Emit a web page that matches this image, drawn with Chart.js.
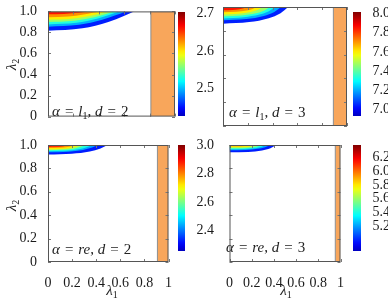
<!DOCTYPE html>
<html>
<head>
<meta charset="utf-8">
<script src="https://cdn.jsdelivr.net/npm/chart.js@4/dist/chart.umd.min.js"></script>
<style>
  body { margin: 0; width: 388px; height: 303px; position: relative; background: #fff; overflow: hidden; }
  canvas { position: absolute; }
  .note, .lab { position: absolute; font-family: 'Liberation Serif', serif; font-size: 15px; color: #222; white-space: nowrap; line-height: 15px; }
  .note sub, .lab sub { font-size: 10px; font-style: normal; vertical-align: -3px; line-height: 0; }
  .note .eq { padding: 0 5px; font-style: normal; }
  .lab { width: 30px; margin-left: -15px; margin-top: -8px; text-align: center; font-style: italic; }
  .rot { transform: rotate(-90deg); }
</style>
</head>
<body>
<canvas id="p1" width="177" height="128" style="left:0;top:0"></canvas>
<canvas id="c1" width="40" height="128" style="left:178px;top:0"></canvas>
<canvas id="p2" width="128" height="128" style="left:221px;top:0"></canvas>
<canvas id="c2" width="35" height="128" style="left:353px;top:0"></canvas>
<canvas id="p3" width="177" height="173" style="left:0;top:130px"></canvas>
<canvas id="c3" width="40" height="133" style="left:178px;top:130px"></canvas>
<canvas id="p4" width="128" height="173" style="left:221px;top:130px"></canvas>
<canvas id="c4" width="35" height="133" style="left:353px;top:130px"></canvas>

<div class="note" style="left:52px;top:104px"><i>α</i><span class="eq">=</span><i>l</i><sub>1</sub>, <i>d</i><span class="eq">=</span>2</div>
<div class="note" style="left:229px;top:105px"><i>α</i><span class="eq">=</span><i>l</i><sub>1</sub>, <i>d</i><span class="eq">=</span>3</div>
<div class="note" style="left:52px;top:242px"><i>α</i><span class="eq">=</span><i>re</i>, <i>d</i><span class="eq">=</span>2</div>
<div class="note" style="left:226px;top:240px"><i>α</i><span class="eq">=</span><i>re</i>, <i>d</i><span class="eq">=</span>3</div>

<div class="lab rot" style="left:11px;top:65px">λ<sub>2</sub></div>
<div class="lab rot" style="left:11px;top:206px">λ<sub>2</sub></div>
<div class="lab" style="left:112px;top:291px">λ<sub>1</sub></div>
<div class="lab" style="left:286px;top:291px">λ<sub>1</sub></div>

<script>
// ticks of the λ1 / λ2 axes
var lambdaTicks = [0, 0.2, 0.4, 0.6, 0.8, 1];

// where the orange strip starts on the λ1 axis (l1 d2, l1 d3, re d2, re d3)
var stripStart = [0.81, 0.89, 0.908, 0.953];

// colour bar ranges and ticks
var cbarMin = [2.427, 6.93, 2.257, 4.837];
var cbarMax = [2.705, 8.018, 3.0, 6.382];
var cbarTicks = [
  [2.5, 2.6, 2.7],
  [7.0, 7.2, 7.4, 7.6, 7.8, 8.0],
  [2.4, 2.6, 2.8, 3.0],
  [5.2, 5.4, 5.6, 5.8, 6.0, 6.2]
];

// contour levels, outermost (blue) first
var levelsL1D2 = [2.455, 2.497, 2.530, 2.566, 2.599, 2.627, 2.663];
var levelsL1D3 = [7.04, 7.20, 7.33, 7.47, 7.60, 7.71, 7.85];
var levelsReD2 = [2.33, 2.44, 2.53, 2.63, 2.72, 2.79, 2.89];
var levelsReD3 = [4.99, 5.22, 5.41, 5.61, 5.80, 5.95, 6.15];

// contour lines [λ1, λ2], same order as the levels
var contoursL1D2 = [
  [[0, .815], [.271, .839], [.475, .900], [.597, .956], [.678, 1]],
  [[0, .854], [.244, .873], [.427, .921], [.537, .965], [.61, 1]],
  [[0, .876], [.224, .892], [.392, .933], [.493, .970], [.56, 1]],
  [[0, .899], [.208, .912], [.364, .945], [.458, .976], [.52, 1]],
  [[0, .921], [.188, .931], [.329, .957], [.414, .981], [.47, 1]],
  [[0, .944], [.16, .951], [.28, .970], [.352, .987], [.40, 1]],
  [[0, .972], [.124, .976], [.217, .985], [.273, .993], [.31, 1]]
];
var contoursL1D3 = [
  [[0, .859], [.211, .873], [.369, .906], [.464, .948], [.527, 1]],
  [[0, .888], [.188, .899], [.329, .925], [.414, .959], [.47, 1]],
  [[0, .904], [.168, .914], [.294, .936], [.370, .964], [.42, 1]],
  [[0, .921], [.152, .929], [.266, .947], [.334, .971], [.38, 1]],
  [[0, .938], [.128, .944], [.224, .958], [.282, .977], [.32, 1]],
  [[0, .955], [.108, .960], [.189, .970], [.238, .983], [.27, 1]],
  [[0, .972], [.076, .975], [.133, .981], [.167, .990], [.19, 1]]
];
var contoursReD2 = [
  [[0, .918], [.198, .925], [.347, .944], [.436, .971], [.495, 1]],
  [[0, .938], [.166, .943], [.291, .958], [.366, .978], [.416, 1]],
  [[0, .946], [.146, .950], [.255, .963], [.320, .981], [.364, 1]],
  [[0, .955], [.124, .959], [.217, .969], [.273, .984], [.31, 1]],
  [[0, .963], [.108, .966], [.189, .975], [.238, .987], [.27, 1]],
  [[0, .975], [.093, .977], [.163, .983], [.205, .991], [.233, 1]],
  [[0, .983], [.067, .984], [.117, .988], [.147, .994], [.167, 1]]
];
var contoursReD3 = [
  [[0, .938], [.168, .941], [.293, .954], [.369, .972], [.419, 1]],
  [[0, .955], [.146, .957], [.256, .967], [.321, .980], [.365, 1]],
  [[0, .963], [.130, .965], [.227, .973], [.285, .983], [.324, 1]],
  [[0, .972], [.114, .973], [.199, .979], [.250, .987], [.284, 1]],
  [[0, .980], [.097, .981], [.170, .985], [.214, .991], [.243, 1]],
  [[0, .989], [.076, .990], [.133, .992], [.167, .995], [.19, 1]],
  [[0, .995], [.054, .995], [.095, .996], [.119, .997], [.135, 1]]
];

var tickFont = { family: 'Liberation Serif', size: 14 };
var textColor = '#1a1a1a';

// jet colormap
function jet(t) {
  t = 0.06 + 0.94 * Math.max(0, Math.min(1, t));
  var c = function (v) { return Math.round(255 * Math.max(0, Math.min(1, v))); };
  return 'rgb(' + c(1.5 - Math.abs(4 * t - 3)) + ',' + c(1.5 - Math.abs(4 * t - 2)) + ',' + c(1.5 - Math.abs(4 * t - 1)) + ')';
}

// frame around the plot with small inward ticks
var boxPlugin = {
  id: 'box',
  afterDatasetsDraw: function (chart) {
    var a = chart.chartArea, ctx = chart.ctx, xs = chart.scales.x, ys = chart.scales.y;
    ctx.save();
    ctx.strokeStyle = '#777';
    ctx.lineWidth = 1;
    ctx.beginPath();
    lambdaTicks.forEach(function (v) {
      var px = Math.round(xs.getPixelForValue(v)) + 0.5;
      var py = Math.round(ys.getPixelForValue(v)) + 0.5;
      ctx.moveTo(px, a.bottom); ctx.lineTo(px, a.bottom - 3);
      ctx.moveTo(px, a.top); ctx.lineTo(px, a.top + 3);
      ctx.moveTo(a.left, py); ctx.lineTo(a.left + 3, py);
      ctx.moveTo(a.right, py); ctx.lineTo(a.right - 3, py);
    });
    ctx.stroke();
    ctx.strokeStyle = '#555';
    ctx.strokeRect(a.left + 0.5, a.top + 0.5, a.width - 1, a.height - 1);
    ctx.restore();
  }
};

function toPoints(line) {
  return line.map(function (p) { return { x: p[0], y: p[1] }; });
}

function makePanel(id, k, levels, contours, showX, showY, padTop) {
  var datasets = [];
  // innermost contour first so it is drawn on top
  for (var i = contours.length - 1; i >= 0; i--) {
    datasets.push({
      data: toPoints(contours[i]),
      backgroundColor: jet((levels[i] - cbarMin[k]) / (cbarMax[k] - cbarMin[k])),
      borderWidth: 0,
      pointRadius: 0,
      fill: 'end',
      cubicInterpolationMode: 'monotone'
    });
  }
  datasets.push({
    data: [{ x: stripStart[k], y: 0 }, { x: stripStart[k], y: 1 }, { x: 1, y: 1 }],
    backgroundColor: '#f8a65b',
    borderColor: '#8c8c8c',
    borderWidth: 1,
    pointRadius: 0,
    fill: 'start',
    tension: 0
  });

  new Chart(document.getElementById(id), {
    type: 'line',
    data: { datasets: datasets },
    plugins: [boxPlugin],
    options: {
      responsive: false,
      animation: false,
      devicePixelRatio: 1,
      layout: { padding: { top: padTop, right: 2, left: 0, bottom: 0 }, autoPadding: false },
      plugins: { legend: { display: false }, tooltip: { enabled: false } },
      scales: {
        x: {
          type: 'linear', min: 0, max: 1,
          afterBuildTicks: function (s) { s.ticks = lambdaTicks.map(function (v) { return { value: v }; }); },
          afterFit: function (s) { s.height = showX ? 41 : 2; },
          grid: { display: false },
          border: { display: false },
          ticks: {
            display: showX, font: tickFont, color: textColor, padding: 5, autoSkip: false, maxRotation: 0,
            callback: function (v) { return (v === 0 || v === 1) ? String(v) : v.toFixed(1); }
          }
        },
        y: {
          min: 0, max: 1,
          afterBuildTicks: function (s) { s.ticks = lambdaTicks.map(function (v) { return { value: v }; }); },
          afterFit: function (s) { s.width = showY ? 48 : 2; },
          grid: { display: false },
          border: { display: false },
          ticks: {
            display: showY, font: tickFont, color: textColor, padding: 3,
            callback: function (v) { return v === 0 ? '0' : v.toFixed(1); }
          }
        }
      }
    }
  });
}

function makeColorbar(id, k, barWidth, padTop, padBottom) {
  var canvas = document.getElementById(id);
  new Chart(canvas, {
    type: 'bar',
    data: {
      labels: [''],
      datasets: [{
        data: [[cbarMin[k], cbarMax[k]]],
        backgroundColor: function (c) {
          var a = c.chart.chartArea;
          if (!a) return null;
          var g = c.chart.ctx.createLinearGradient(0, a.bottom, 0, a.top);
          for (var i = 0; i <= 24; i++) g.addColorStop(i / 24, jet(i / 24));
          return g;
        },
        borderWidth: 0,
        barPercentage: 1,
        categoryPercentage: 1
      }]
    },
    options: {
      responsive: false,
      animation: false,
      devicePixelRatio: 1,
      layout: { padding: { top: padTop, bottom: padBottom, left: 0, right: 0 }, autoPadding: false },
      plugins: { legend: { display: false }, tooltip: { enabled: false } },
      scales: {
        x: { display: false, ticks: { display: false }, afterFit: function (s) { s.height = 0; } },
        y: {
          position: 'right',
          min: cbarMin[k], max: cbarMax[k],
          afterBuildTicks: function (s) { s.ticks = cbarTicks[k].map(function (v) { return { value: v }; }); },
          afterFit: function (s) { s.width = canvas.width - barWidth; },
          grid: { display: false },
          border: { display: false },
          ticks: { font: tickFont, color: textColor, padding: 3.5, callback: function (v) { return v.toFixed(1); } }
        }
      }
    }
  });
}

makePanel('p1', 0, levelsL1D2, contoursL1D2, false, true, 7);
makePanel('p2', 1, levelsL1D3, contoursL1D3, false, false, 7);
makePanel('p3', 2, levelsReD2, contoursReD2, true, true, 15);
makePanel('p4', 3, levelsReD3, contoursReD3, true, false, 15);

makeColorbar('c1', 0, 7, 7, 2);
makeColorbar('c2', 1, 8, 7, 2);
makeColorbar('c3', 2, 7, 15, 1);
makeColorbar('c4', 3, 8, 15, 1);
</script>
</body>
</html>
